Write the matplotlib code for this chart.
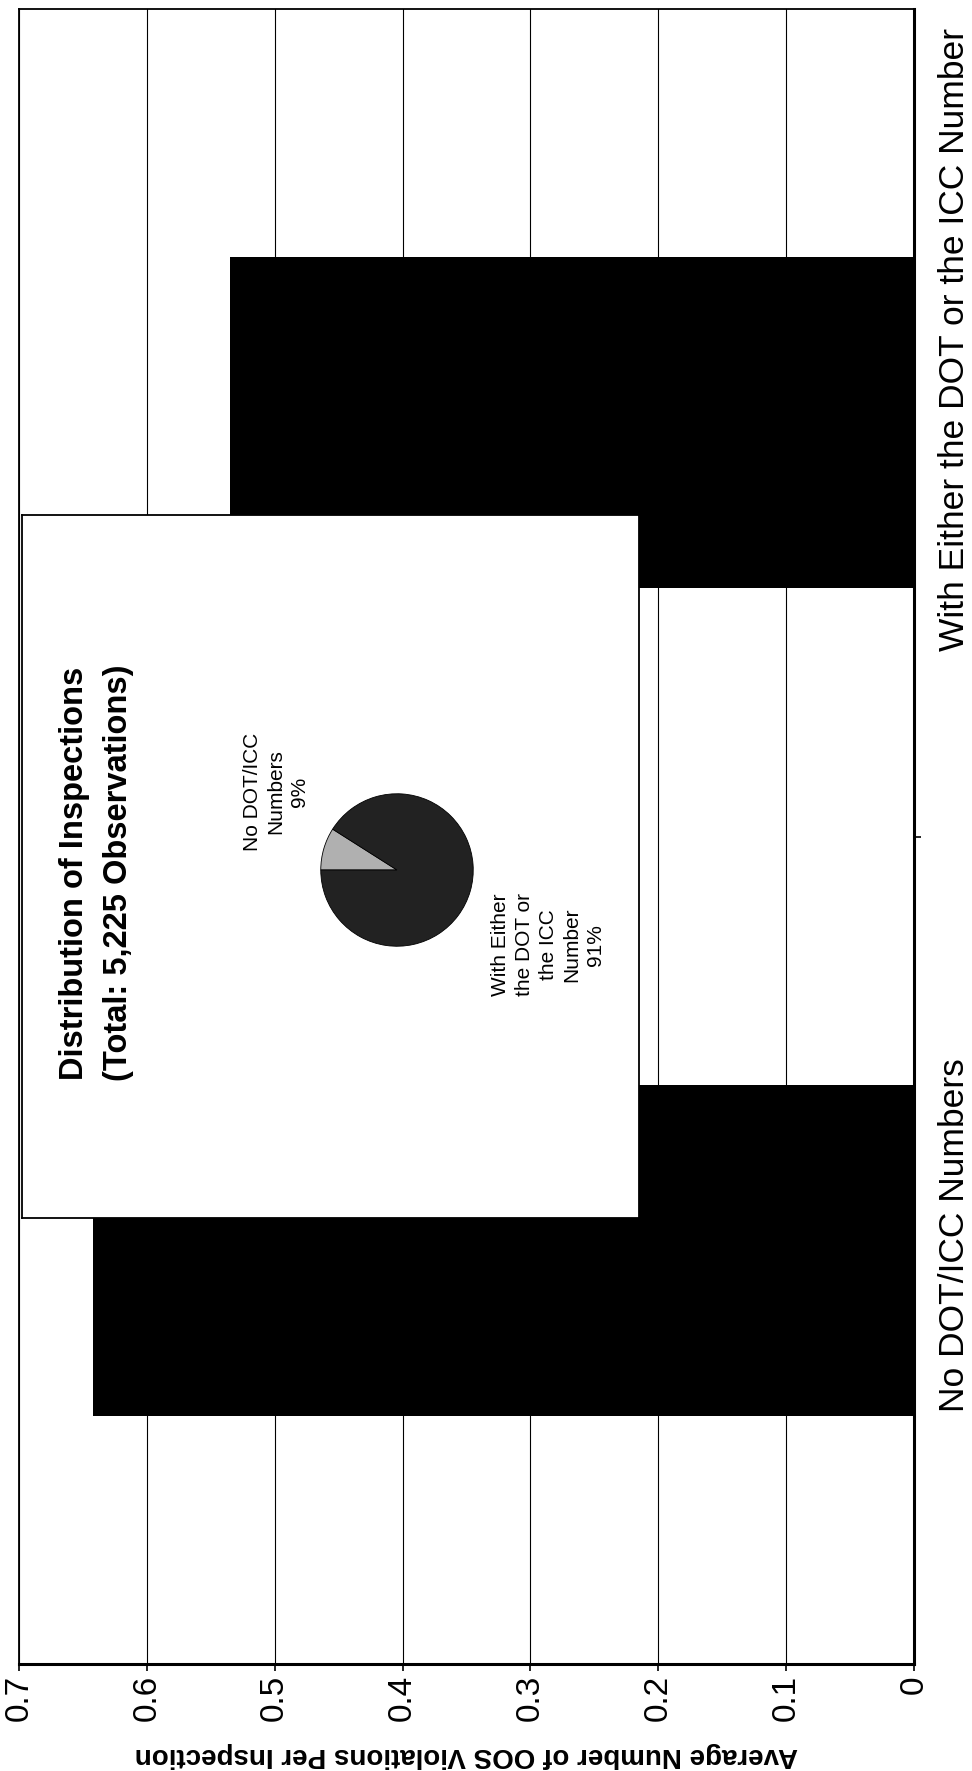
import matplotlib
matplotlib.use('Agg')
import matplotlib.pyplot as plt

plt.rcParams['font.family'] = ['Liberation Sans', 'DejaVu Sans']

# bar chart data (value axis runs 0.7 at the left to 0 at the right)
categories = ['No DOT/ICC Numbers', 'With Either the DOT or the ICC Number']
avg_oos = [0.642, 0.535]
value_ticks = [0, 0.1, 0.2, 0.3, 0.4, 0.5, 0.6, 0.7]
value_labels = ['0', '0.1', '0.2', '0.3', '0.4', '0.5', '0.6', '0.7']
axis_title = 'Average Number of OOS Violations Per Inspection'

# inset pie data
pie_labels = ['No DOT/ICC\nNumbers\n9%', 'With Either\nthe DOT or\nthe ICC\nNumber\n91%']
pie_shares = [9, 91]
pie_colors = ['#b0b0b0', '#222222']
inset_title = ['Distribution of Inspections', '(Total: 5,225 Observations)']

W, H = 972, 1771
fig = plt.figure(figsize=(W / 100, H / 100), dpi=100)


def box(x0, y0, x1, y1):
    # pixel box (top-left origin) -> figure rect
    return [x0 / W, 1 - y1 / H, (x1 - x0) / W, (y1 - y0) / H]


def fpos(x, y):
    return x / W, 1 - y / H


# main bar chart
ax = fig.add_axes(box(19, 9, 914, 1664))
ypos = list(range(len(categories)))
ax.barh(ypos, avg_oos, height=0.4, color='black', zorder=3)
ax.set_xlim(0.7, 0)
ax.set_ylim(-0.5, 1.5)
ax.set_xticks(value_ticks)
ax.set_xticklabels(value_labels, rotation=90, fontsize=24)
ax.tick_params(axis='x', direction='out', length=5, width=1.2, pad=3)
ax.grid(axis='x', color='black', lw=0.8, zorder=0)

ax.yaxis.tick_right()
ax.set_yticks([0.5])
ax.set_yticklabels([])
ax.tick_params(axis='y', which='major', direction='out', length=5, width=1.2)

# category labels, nudged along the axis like the original
for yp, cat, dy in zip(ypos, categories, [11, 60]):
    ax.annotate(cat, xy=(1, yp), xycoords=('axes fraction', 'data'),
                xytext=(29, dy), textcoords='offset points', rotation=90,
                ha='center', va='center', fontsize=25.5, annotation_clip=False)

for s in ['top', 'left']:
    ax.spines[s].set_linewidth(1.3)
for s in ['bottom', 'right']:
    ax.spines[s].set_linewidth(2.2)

x, y = fpos(466, 1755)
fig.text(x, y, axis_title, rotation=180, fontsize=20, fontweight='bold',
         ha='center', va='center')

# inset box
ax_in = fig.add_axes(box(22, 515, 639, 1218))
ax_in.set_facecolor('white')
ax_in.set_xticks([])
ax_in.set_yticks([])
for s in ax_in.spines.values():
    s.set_linewidth(1.3)

x, y = fpos(74, 873)
fig.text(x, y, inset_title[0], rotation=90, fontsize=23.5, fontweight='bold',
         ha='center', va='center')
x, y = fpos(118, 873)
fig.text(x, y, inset_title[1], rotation=90, fontsize=23.5, fontweight='bold',
         ha='center', va='center')

# pie
ax_p = fig.add_axes(box(397 - 77, 870 - 77, 397 + 77, 870 + 77))
ax_p.pie(pie_shares, colors=pie_colors, startangle=180, counterclock=False,
         wedgeprops=dict(edgecolor='black', linewidth=0.6))
ax_p.set_xlim(-1.01, 1.01)
ax_p.set_ylim(-1.01, 1.01)
ax_p.set_aspect('equal')

x, y = fpos(276, 792)
fig.text(x, y, pie_labels[0], rotation=90, fontsize=15, ha='center', va='center',
         multialignment='center', linespacing=1.3)
x, y = fpos(548, 945)
fig.text(x, y, pie_labels[1], rotation=90, fontsize=15, ha='center', va='center',
         multialignment='center', linespacing=1.3)

fig.savefig('out.png', dpi=100, facecolor='white')
